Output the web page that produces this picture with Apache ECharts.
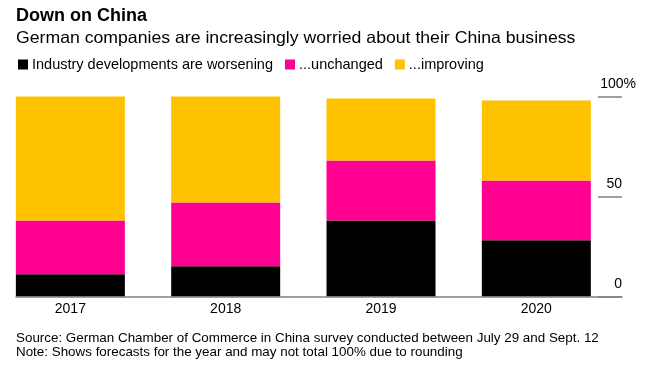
<!DOCTYPE html>
<html><head><meta charset="utf-8">
<script src="https://cdn.jsdelivr.net/npm/echarts@6/dist/echarts.min.js"></script>
<style>html,body{margin:0;padding:0;background:#fff;overflow:hidden;width:656px;height:388px;position:relative}
#c{position:absolute;left:-8px;top:0;width:664px;height:388px}</style>
</head><body><div id="c"></div>
<script>
const categories = ['2017', '2018', '2019', '2020'];
const worsening = [11, 15, 38, 28];
const unchanged = [27, 32, 30, 30];
const improving = [62, 53, 31, 40];
const seriesNames = ['Industry developments are worsening', '...unchanged', '...improving'];
const titleText = 'Down on China';
const subtitleText = 'German companies are increasingly worried about their China business';
const footerText = 'Source: German Chamber of Commerce in China survey conducted between July 29 and Sept. 12\nNote: Shows forecasts for the year and may not total 100% due to rounding';

const FONT = '"Liberation Sans", Arial, sans-serif';
const X = 8; // container is shifted left by 8px
const chart = echarts.init(document.getElementById('c'), null, {renderer: 'canvas'});
const colors = ['#000000', '#FF0090', '#FFC200'];
const gridTop = 96.5, gridBottom = 388 - 296.3;

chart.setOption({
  animation: false,
  textStyle: {fontFamily: FONT},
  graphic: [
    {type: 'text', x: 16 + X, y: 7.3, silent: true,
     style: {text: titleText, fontFamily: FONT, fontSize: 18, fontWeight: 'bold', fill: '#000', verticalAlign: 'top'}},
    {type: 'text', x: 16 + X, y: 30.3, scaleX: 1.07, silent: true,
     style: {text: subtitleText, fontFamily: FONT, fontSize: 16.5, fill: '#000', verticalAlign: 'top'}},
    {type: 'text', x: 16 + X, y: 330.8, silent: true,
     style: {text: footerText, fontFamily: FONT, fontSize: 13.4, lineHeight: 14.4, fill: '#000', verticalAlign: 'top'}}
  ],
  legend: {
    left: 18 + X, top: 57, padding: 0, icon: 'rect', itemWidth: 10, itemHeight: 10, itemGap: 12,
    textStyle: {fontFamily: FONT, fontSize: 14.5, color: '#000', padding: [0, 0, 0, -1]},
    data: seriesNames
  },
  grid: [
    {left: -7.3 + X, width: 621.3, top: gridTop, bottom: gridBottom},
    {left: 16 + X, width: 606, top: gridTop, bottom: gridBottom},
    {left: 598 + X, width: 24, top: gridTop, bottom: gridBottom}
  ],
  xAxis: [
    {type: 'category', gridIndex: 0, data: categories, axisLine: {show: false}, axisTick: {show: false},
     axisLabel: {fontFamily: FONT, fontSize: 14, color: '#000', margin: 6}},
    {type: 'value', gridIndex: 1, min: 0, max: 1, axisLine: {show: true, lineStyle: {color: '#808080', width: 1.5}},
     axisTick: {show: false}, axisLabel: {show: false}, splitLine: {show: false}},
    {type: 'value', gridIndex: 2, min: 0, max: 1, show: false}
  ],
  yAxis: [
    {type: 'value', gridIndex: 0, min: 0, max: 100, show: false},
    {type: 'value', gridIndex: 1, min: 0, max: 100, show: false},
    {type: 'value', gridIndex: 2, position: 'right', min: 0, max: 100, interval: 50,
     axisLine: {show: false}, axisTick: {show: false},
     splitLine: {show: true, lineStyle: {color: '#808080', width: 1.5}},
     axisLabel: {inside: true, margin: -14, align: 'right', verticalAlign: 'bottom', padding: [0, 0, 5, 0],
       fontFamily: FONT, fontSize: 14, color: '#000',
       formatter: v => v === 100 ? '{n|100%}' : '{n|' + v + '}{s| }',
       rich: {n: {fontFamily: FONT, fontSize: 14, color: '#000'}, s: {width: 14, fontSize: 14}}}}
  ],
  series: [
    {name: seriesNames[0], type: 'bar', stack: 't', barWidth: 109, data: worsening, itemStyle: {color: colors[0]}},
    {name: seriesNames[1], type: 'bar', stack: 't', barWidth: 109, data: unchanged, itemStyle: {color: colors[1]}},
    {name: seriesNames[2], type: 'bar', stack: 't', barWidth: 109, data: improving, itemStyle: {color: colors[2]}}
  ]
});
</script></body></html>
